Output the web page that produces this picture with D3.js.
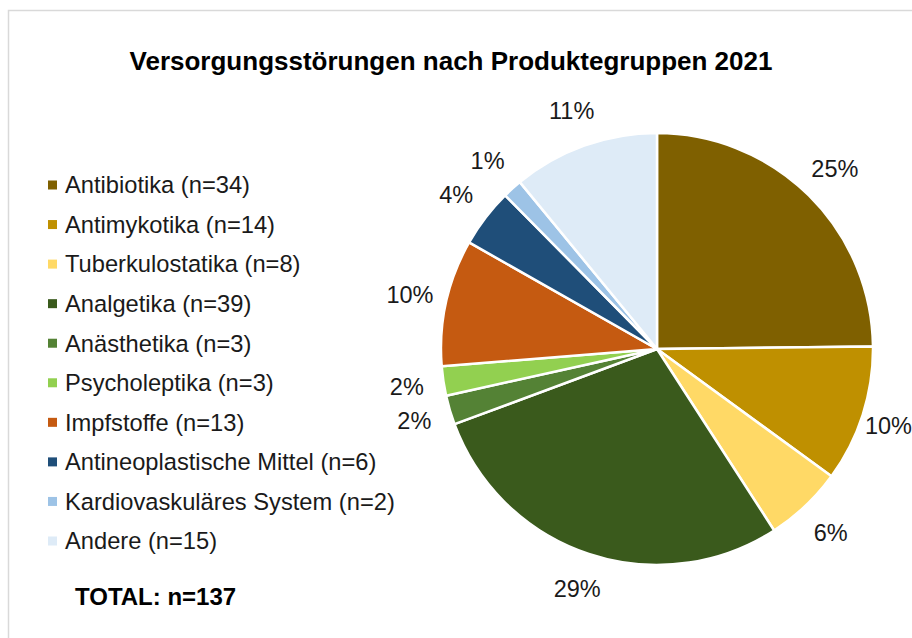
<!DOCTYPE html>
<html>
<head>
<meta charset="utf-8">
<script src="https://cdn.jsdelivr.net/npm/d3@7"></script>
<style>
  body { margin: 0; background: #fff; }
  svg { display: block; font-family: Arial, "Liberation Sans", sans-serif; }
</style>
</head>
<body>
<svg id="chart" width="912" height="638"></svg>
<script>
// data
const categories = ["Antibiotika", "Antimykotika", "Tuberkulostatika", "Analgetika", "Anästhetika",
  "Psycholeptika", "Impfstoffe", "Antineoplastische Mittel", "Kardiovaskuläres System", "Andere"];
const counts = [34, 14, 8, 39, 3, 3, 13, 6, 2, 15];
const colors = ["#7f6000", "#bf9000", "#ffd966", "#3a5a1c", "#548235",
  "#92d050", "#c55a11", "#1f4e79", "#9dc3e6", "#deebf7"];
const title = "Versorgungsstörungen nach Produktegruppen 2021";

const width = 912;
const svg = d3.select("#chart");
const total = d3.sum(counts);

// whole percents that add up to 100 (largest remainder)
const raw = counts.map(v => v / total * 100);
const pct = raw.map(Math.floor);
d3.range(raw.length)
  .sort((a, b) => (raw[b] - pct[b]) - (raw[a] - pct[a]))
  .slice(0, 100 - d3.sum(pct))
  .forEach(i => pct[i] += 1);

const data = categories.map((c, i) => ({ name: c, n: counts[i], pct: pct[i], color: colors[i] }));

// chart frame (cut by the image edge on right and bottom)
svg.append("rect")
  .attr("x", 8.5).attr("y", 10.5)
  .attr("width", 1000).attr("height", 1000)
  .attr("fill", "none")
  .attr("stroke", "#d9d9d9")
  .attr("stroke-width", 1.5);

svg.append("text")
  .attr("x", 451).attr("y", 70)
  .attr("text-anchor", "middle")
  .attr("font-size", 26).attr("font-weight", "bold")
  .attr("fill", "#000")
  .text(title);

// pie
const cx = 657, cy = 349, radius = 216;
const pie = d3.pie().sort(null).value(d => d.n);
const arc = d3.arc().innerRadius(0).outerRadius(radius);
const labelArc = d3.arc().innerRadius(253).outerRadius(253);

const g = svg.append("g").attr("transform", `translate(${cx},${cy})`);
const arcs = pie(data);

g.selectAll("path")
  .data(arcs)
  .join("path")
  .attr("d", arc)
  .attr("fill", d => d.data.color)
  .attr("stroke", "#fff")
  .attr("stroke-width", 2.5)
  .attr("stroke-linejoin", "round");

g.selectAll("text")
  .data(arcs)
  .join("text")
  .attr("text-anchor", "middle")
  .attr("dy", "0.35em")
  .attr("font-size", 23.5)
  .attr("fill", "#1a1a1a")
  .text(d => d.data.pct + "%")
  .attr("transform", function(d) {
    const [x, y] = labelArc.centroid(d);
    // keep the label inside the picture, pushed in from the right edge
    const half = this.getComputedTextLength() / 2;
    const over = cx + x + half - width;
    return `translate(${over > 0 ? x - over : x},${y})`;
  });

// legend
const legendY = d3.scalePoint()
  .domain(categories)
  .range([185, 541]);

const legend = svg.append("g");
const item = legend.selectAll("g")
  .data(data)
  .join("g")
  .attr("transform", d => `translate(0,${legendY(d.name)})`);

item.append("rect")
  .attr("x", 48).attr("y", -4.5)
  .attr("width", 9).attr("height", 9)
  .attr("fill", d => d.color);

item.append("text")
  .attr("x", 65)
  .attr("dy", "0.35em")
  .attr("font-size", 23.7)
  .attr("fill", "#1a1a1a")
  .text(d => `${d.name} (n=${d.n})`);

svg.append("text")
  .attr("x", 75).attr("y", 597)
  .attr("dy", "0.35em")
  .attr("font-size", 24).attr("font-weight", "bold")
  .attr("fill", "#000")
  .text(`TOTAL: n=${total}`);
</script>
</body>
</html>
